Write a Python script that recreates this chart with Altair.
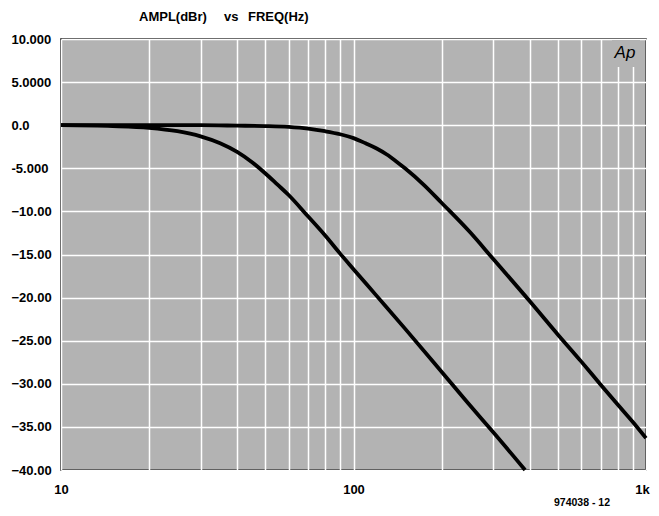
import altair as alt
import pandas as pd

# Curve 1 (lower corner frequency)
f1 = [10, 15, 20, 25, 30, 35, 40, 45, 50, 55, 60, 70, 80, 90, 100, 120, 150, 200, 250, 300, 386]
a1 = [0.0, -0.1, -0.3, -0.7, -1.3, -2.1, -3.1, -4.3, -5.6, -6.9, -8.1, -10.6, -12.8, -14.9,
      -16.7, -19.8, -23.6, -28.6, -32.5, -35.6, -40.0]
# Curve 2 (higher corner frequency)
f2 = [10, 20, 30, 40, 50, 60, 70, 80, 90, 100, 110, 120, 130, 140, 150, 175, 200, 250, 300,
      400, 500, 600, 700, 800, 900, 1000]
a2 = [0.0, 0.0, 0.0, -0.05, -0.1, -0.2, -0.4, -0.7, -1.05, -1.5, -2.1, -2.7, -3.4, -4.2,
      -5.0, -7.0, -9.0, -12.4, -15.5, -20.4, -24.3, -27.4, -30.1, -32.4, -34.4, -36.3]

x_grid = [10, 20, 30, 40, 50, 60, 70, 80, 90, 100, 200, 300, 400, 500, 600, 700, 800, 900, 1000]
y_grid = [10, 5, 0, -5, -10, -15, -20, -25, -30, -35, -40]

FONT = "Liberation Sans, Arial, sans-serif"
GRAY = "#b3b3b3"

df = pd.DataFrame({
    "freq": f1 + f2,
    "ampl": a1 + a2,
    "curve": ["A"] * len(f1) + ["B"] * len(f2),
})

lines = alt.Chart(df).mark_line(color="black", strokeWidth=3.8, interpolate="monotone").encode(
    x=alt.X("freq:Q",
            scale=alt.Scale(type="log", domain=[10, 1000], nice=False),
            axis=alt.Axis(values=x_grid, title=None, grid=True, gridColor="white", gridWidth=1.5,
                          gridOpacity=1, ticks=False, domain=False, labelFlush=False,
                          labelOverlap=False, labelFont=FONT, labelFontSize=13,
                          labelFontWeight="bold", labelColor="black", labelPadding=19,
                          labelBaseline="middle",
                          labelOffset={"condition": {"test": "datum.value == 1000", "value": -4}, "value": 0},
                          labelExpr="datum.value == 10 ? '10' : datum.value == 100 ? '100' : datum.value == 1000 ? '1k' : ''")),
    y=alt.Y("ampl:Q",
            scale=alt.Scale(domain=[-40, 10], nice=False, zero=False),
            axis=alt.Axis(values=y_grid, title=None, grid=True, gridColor="white", gridWidth=1.5,
                          gridOpacity=1, ticks=False, domain=False, labelFlush=False,
                          labelOverlap=False, labelFont=FONT, labelFontSize=13,
                          labelFontWeight="bold", labelColor="black", labelPadding=50,
                          labelAlign="left", labelBaseline="middle",
                          labelExpr="datum.value == 10 ? '10.000' : datum.value == 5 ? '5.0000' : datum.value == 0 ? '0.0' : datum.value == -5 ? '-5.000' : format(datum.value, '.2f')")),
    detail="curve:N",
)

logo_bg = alt.Chart(pd.DataFrame({"k": [0]})).mark_rect(color=GRAY).encode(
    x=alt.value(551), x2=alt.value(579), y=alt.value(1), y2=alt.value(28)
)
logo = alt.Chart(pd.DataFrame({"t": ["Ap"]})).mark_text(
    font=FONT, fontSize=17, fontStyle="italic",
    align="center", baseline="middle", color="black"
).encode(text="t:N", x=alt.value(564), y=alt.value(14))

title_words = ["AMPL(dBr)", "vs", "FREQ(Hz)"]
title_parts = []
for word, xpos in zip(title_words, [78, 163, 187]):
    title_parts.append(
        alt.Chart(pd.DataFrame({"t": [word]})).mark_text(
            font=FONT, fontSize=13, fontWeight="bold", align="left", baseline="middle", color="black"
        ).encode(text="t:N", x=alt.value(xpos), y=alt.value(-22))
    )

code = alt.Chart(pd.DataFrame({"t": ["974038 - 12"]})).mark_text(
    font=FONT, fontSize=10.5, fontWeight="bold", align="center", baseline="middle", color="black"
).encode(text="t:N", x=alt.value(521), y=alt.value(464))

chart = alt.layer(lines, logo_bg, logo, *title_parts, code).properties(
    width=585, height=431,
    autosize=alt.AutoSizeParams(type="none"),
    padding={"left": 53, "top": 31, "right": 5, "bottom": 38},
    background="white",
).configure_view(fill=GRAY, stroke="black", strokeWidth=1.5)

chart.save("out.html", embed_options={"renderer": "svg", "actions": False})
